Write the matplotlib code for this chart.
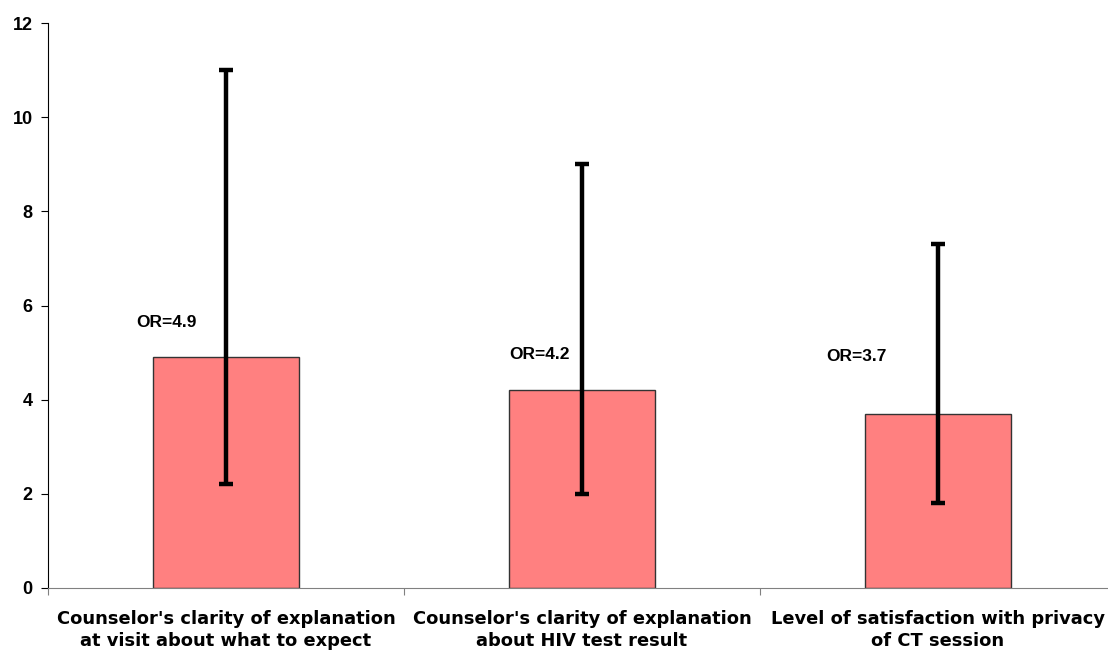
import numpy as np
import matplotlib
matplotlib.use('Agg')
import matplotlib.pyplot as plt

categories = [
    "Counselor's clarity of explanation\nat visit about what to expect",
    "Counselor's clarity of explanation\nabout HIV test result",
    "Level of satisfaction with privacy\nof CT session",
]
odds_ratio = [4.9, 4.2, 3.7]
ci_low = [2.2, 2.0, 1.8]
ci_high = [11.0, 9.0, 7.3]
labels = ["OR=4.9", "OR=4.2", "OR=3.7"]

fig = plt.figure(figsize=(11.08, 6.53), dpi=100)
# x axis runs slightly past the right edge, as in the original
ax = fig.add_axes([48 / 1108, 65 / 653, 1068 / 1108, 565 / 653])

x = np.arange(len(categories))
ax.bar(x, odds_ratio, width=0.41, color='#FF8080', edgecolor='#333333',
       linewidth=1.0, zorder=2)
yerr = [np.array(odds_ratio) - np.array(ci_low),
        np.array(ci_high) - np.array(odds_ratio)]
ax.errorbar(x, odds_ratio, yerr=yerr, fmt='none', ecolor='black',
            elinewidth=3.2, capsize=5, capthick=3.2, zorder=3)

# label offsets as placed in the original
lab_dx = [-0.166, -0.118, -0.23]
lab_y = [5.63, 4.95, 4.92]
for xi, dx, yy, t in zip(x, lab_dx, lab_y, labels):
    ax.text(xi + dx, yy, t, ha='center', va='center', fontsize=12.5,
            fontweight='bold', family='Liberation Sans')

ax.set_xlim(-0.5, 2.5)
ax.set_ylim(0, 12)
ax.set_yticks(range(0, 13, 2))
ax.set_yticklabels([str(v) for v in range(0, 13, 2)], fontsize=13,
                   fontweight='bold', family='Liberation Sans')
ax.set_xticks([-0.5, 0.5, 1.5, 2.5])
ax.set_xticklabels([])
ax.set_xticks(x, minor=True)
ax.set_xticklabels(categories, minor=True, fontsize=12.9, fontweight='bold',
                   family='DejaVu Sans', linespacing=1.3)
ax.tick_params(axis='x', which='minor', length=0, pad=16)
ax.tick_params(axis='x', which='major', length=5, direction='out', color='#808080')
ax.tick_params(axis='y', length=5, direction='out', pad=6)

ax.spines['top'].set_visible(False)
ax.spines['right'].set_visible(False)
ax.spines['bottom'].set_color('#808080')
ax.spines['left'].set_color('black')

fig.savefig('out.png', dpi=100)
